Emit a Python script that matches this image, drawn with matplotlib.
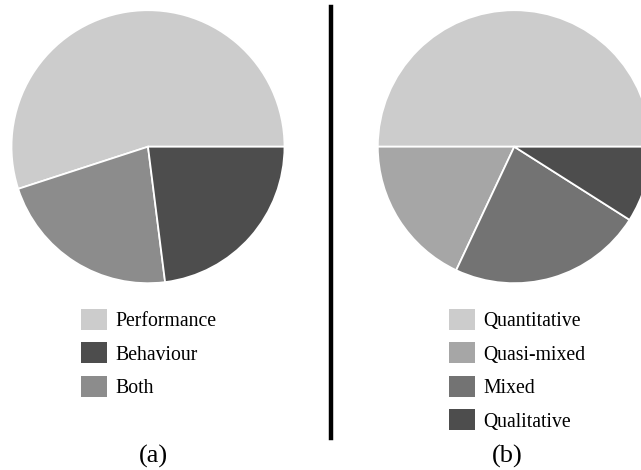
import matplotlib
matplotlib.use("Agg")
import matplotlib.pyplot as plt
from matplotlib.patches import Patch

plt.rcParams['font.family'] = ['Liberation Serif', 'DejaVu Serif']

# (a) focus of the assessment
focus_labels = ['Performance', 'Behaviour', 'Both']
focus_values = [55, 23, 22]
focus_colors = ['#cccccc', '#4d4d4d', '#8c8c8c']
focus_order = [0, 2, 1]  # slice order going counter-clockwise from 3 o'clock

# (b) type of method
method_labels = ['Quantitative', 'Quasi-mixed', 'Mixed', 'Qualitative']
method_values = [50, 18, 23, 9]
method_colors = ['#cccccc', '#a6a6a6', '#737373', '#4d4d4d']
method_order = [0, 1, 2, 3]

W, H = 641, 470
fig = plt.figure(figsize=(W / 100, H / 100), dpi=100)


def px_axes(cx, cy, r):
    # axes box in pixel terms (y measured from the top)
    return fig.add_axes([(cx - r) / W, (H - cy - r) / H, 2 * r / W, 2 * r / H])


def draw_pie(ax, values, colors, order):
    ax.pie([values[i] for i in order], colors=[colors[i] for i in order],
           startangle=0, counterclock=True, radius=1.0,
           wedgeprops=dict(edgecolor='white', linewidth=1.3))
    ax.set_xlim(-1, 1)
    ax.set_ylim(-1, 1)
    ax.set_aspect('equal')
    ax.axis('off')


def draw_legend(labels, colors, x, y):
    handles = [Patch(facecolor=c, edgecolor='none') for c in colors]
    fig.legend(handles, labels, loc='upper left',
               bbox_to_anchor=(x / W, 1 - y / H), frameon=False,
               fontsize=14.2, borderpad=0, borderaxespad=0,
               handlelength=1.3, handleheight=1.25, handletextpad=0.42,
               labelspacing=0.58)


ax1 = px_axes(148, 146.7, 136.5)
draw_pie(ax1, focus_values, focus_colors, focus_order)
ax2 = px_axes(514.3, 146.7, 136.5)
draw_pie(ax2, method_values, method_colors, method_order)

draw_legend(focus_labels, focus_colors, 81, 309)
draw_legend(method_labels, method_colors, 449, 309)

# divider between the two panels
fig.add_artist(plt.Line2D([330.5 / W, 330.5 / W], [1 - 7 / H, 1 - 438 / H],
                          color='black', linewidth=3.2))

fig.text(153 / W, 1 - 456 / H, '(a)', ha='center', va='center', fontsize=19)
fig.text(507 / W, 1 - 456 / H, '(b)', ha='center', va='center', fontsize=19)

fig.savefig('out.png', dpi=100)
